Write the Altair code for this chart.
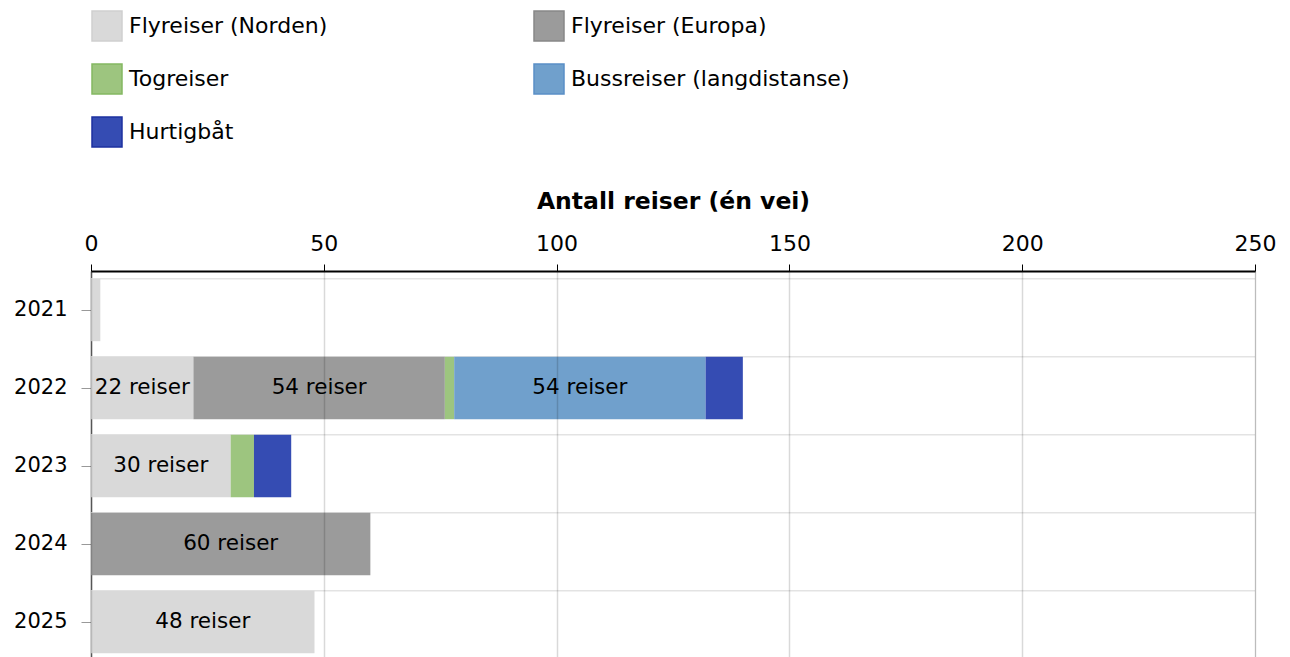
import altair as alt
import pandas as pd

years = ["2021", "2022", "2023", "2024", "2025"]
categories = ["Flyreiser (Norden)", "Flyreiser (Europa)", "Togreiser",
              "Bussreiser (langdistanse)", "Hurtigbåt"]
fill_colors = ["#d9d9d9", "#9b9b9b", "#9dc57f", "#70a0cc", "#354cb3"]
stroke_colors = ["#cfcfcf", "#888888", "#84b862", "#5a8fc6", "#1c30a0"]

norden = [2, 22, 30, 0, 48]
europa = [0, 54, 0, 60, 0]
tog = [0, 2, 5, 0, 0]
buss = [0, 54, 0, 0, 0]
hurtig = [0, 8, 8, 0, 0]

series = [norden, europa, tog, buss, hurtig]
x_ticks = [0, 50, 100, 150, 200, 250]

rows = []
for ci, (cat, vals) in enumerate(zip(categories, series)):
    for yr, v in zip(years, vals):
        if v > 0:
            rows.append({"year": yr, "kategori": cat, "ord": ci, "antall": v})
df = pd.DataFrame(rows)

FONT = "DejaVu Sans"
FS = 22

legend = alt.Legend(
    title=None, orient="top", columns=2, direction="horizontal",
    symbolType="square", symbolSize=900, symbolStrokeWidth=1.5,
    labelFontSize=FS, labelFont=FONT, labelColor="#000",
    labelOffset=6, columnPadding=203, rowPadding=17,
    offset=39, labelLimit=400,
)
color = alt.Color(
    "kategori:N",
    scale=alt.Scale(domain=categories, range=fill_colors),
    legend=legend,
)
stroke = alt.Stroke(
    "kategori:N",
    scale=alt.Scale(domain=categories, range=stroke_colors),
    legend=legend,
)

base = alt.Chart(df)

y_enc = alt.Y(
    "year:N", sort=years, title=None,
    scale=alt.Scale(paddingInner=0.2, paddingOuter=0.1),
    axis=alt.Axis(labelFontSize=21, labelFont=FONT, labelColor="#000",
                  tickSize=10, tickColor="#999", labelPadding=14,
                  domainColor="#666", domainWidth=1.5, grid=False),
)

seps = alt.Chart(pd.DataFrame({"year": years})).mark_rule(
    color="#e3e3e3", strokeWidth=1.5
).encode(y=alt.Y("year:N", sort=years, bandPosition=0))

bars = base.mark_bar(strokeWidth=0).encode(
    x=alt.X(
        "antall:Q", stack="zero",
        scale=alt.Scale(domain=[0, 250], nice=False),
        axis=alt.Axis(orient="top", values=x_ticks, title="Antall reiser (én vei)",
                      titleFontSize=23.5, titleFont=FONT, titleFontWeight="bold",
                      titleColor="#000", titlePadding=19,
                      labelFontSize=FS, labelFont=FONT, labelColor="#000",
                      labelPadding=8.5, labelFlush=False, tickSize=7, tickColor="#000",
                      domainColor="#000", domainWidth=2,
                      grid=True, gridColor="#000", gridOpacity=0.15,
                      gridWidth=1.5, zindex=1),
    ),
    y=y_enc,
    color=color,
    stroke=stroke,
    order=alt.Order("ord:Q"),
)

labels = base.transform_stack(
    stack="antall", groupby=["year"], as_=["x0", "x1"],
    sort=[alt.SortField("ord", order="ascending")],
).transform_calculate(
    mid="(datum.x0 + datum.x1) / 2",
    label="datum.antall + ' reiser'",
).transform_filter("datum.antall >= 20").mark_text(
    fontSize=21.5, font=FONT, color="#000"
).encode(
    x=alt.X("mid:Q"),
    y=alt.Y("year:N", sort=years),
    text="label:N",
)

chart = alt.layer(seps, bars, labels).properties(
    width=1164, height=390
).configure_view(stroke=None).configure(
    padding={"left": 5, "top": 2, "right": 5, "bottom": 5}
)

chart.save("out.html", embed_options={"renderer": "svg", "actions": False})
